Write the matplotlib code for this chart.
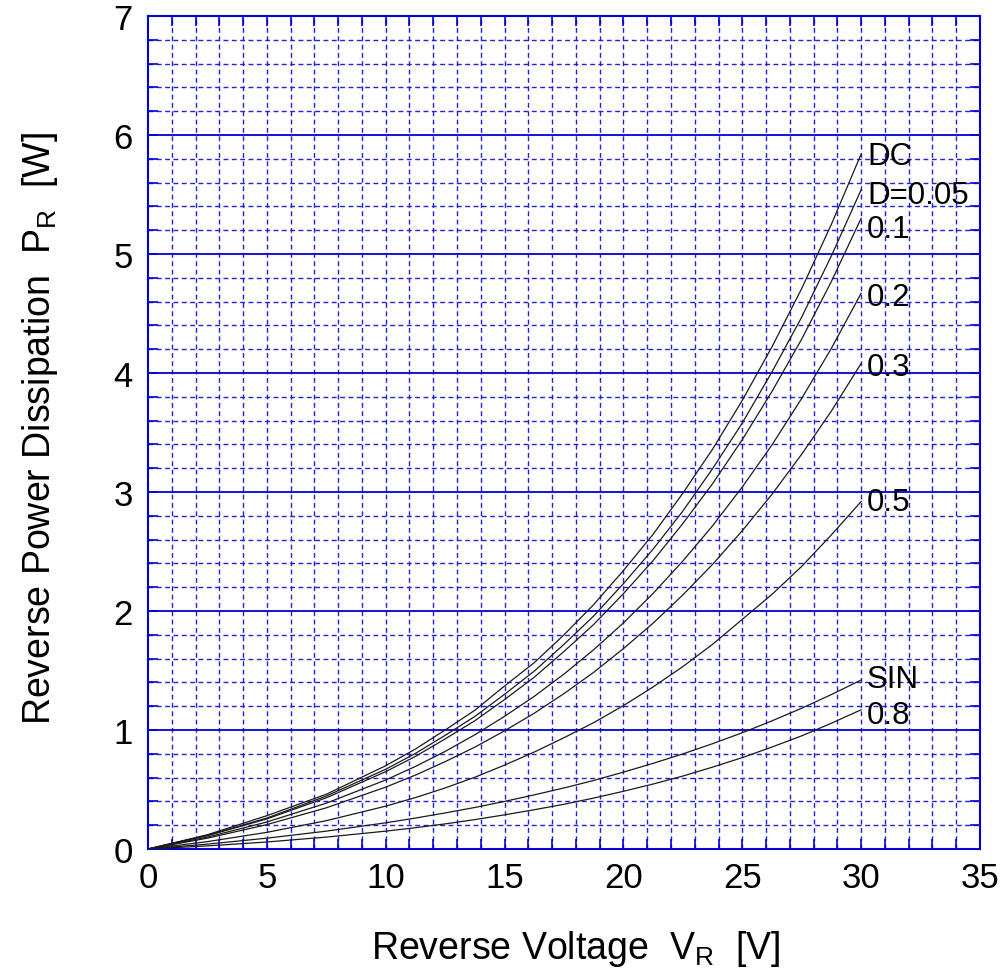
import matplotlib
matplotlib.use("Agg")
import matplotlib.pyplot as plt
import numpy as np

plt.rcParams['font.family'] = ['Liberation Sans', 'DejaVu Sans']
plt.rcParams['mathtext.fontset'] = 'custom'
plt.rcParams['mathtext.rm'] = 'Liberation Sans'

# Reverse voltage (V)
v_r = [0, 2.5, 5, 7.5, 10, 11.25, 12.5, 13.75, 15, 16.25, 17.5, 18.75, 20,
       21.25, 22.5, 23.75, 25, 26.25, 27.5, 28.75, 30]

# Reverse power dissipation (W) per duty cycle
p_dc   = [0, 0.12, 0.28, 0.46, 0.70, 0.84, 1.00, 1.166, 1.37, 1.566, 1.80, 2.054, 2.34,
          2.645, 2.99, 3.36, 3.77, 4.22, 4.71, 5.25, 5.84]
p_d005 = [0, 0.115, 0.26, 0.445, 0.67, 0.803, 0.955, 1.114, 1.30, 1.495, 1.72, 1.958, 2.23,
          2.52, 2.84, 3.196, 3.58, 4.01, 4.47, 4.985, 5.54]
p_d01  = [0, 0.112, 0.253, 0.43, 0.65, 0.778, 0.925, 1.078, 1.256, 1.444, 1.66, 1.887, 2.146,
          2.424, 2.735, 3.07, 3.44, 3.845, 4.285, 4.77, 5.30]
p_d02  = [0, 0.10, 0.227, 0.385, 0.58, 0.694, 0.82, 0.96, 1.115, 1.283, 1.47, 1.675, 1.90,
          2.148, 2.42, 2.716, 3.042, 3.396, 3.787, 4.208, 4.67]
p_d03  = [0, 0.091, 0.205, 0.346, 0.52, 0.621, 0.734, 0.856, 0.993, 1.141, 1.306, 1.485, 1.684,
          1.898, 2.135, 2.392, 2.675, 2.981, 3.318, 3.681, 4.08]
p_d05  = [0, 0.062, 0.14, 0.238, 0.36, 0.432, 0.513, 0.603, 0.705, 0.815, 0.935, 1.062, 1.205,
          1.362, 1.533, 1.72, 1.93, 2.14, 2.375, 2.64, 2.92]
p_sin  = [0, 0.041, 0.091, 0.15, 0.22, 0.26, 0.303, 0.349, 0.40, 0.455, 0.513, 0.576, 0.646,
          0.72, 0.799, 0.885, 0.977, 1.077, 1.183, 1.298, 1.42]
p_d08  = [0, 0.026, 0.059, 0.10, 0.15, 0.179, 0.211, 0.247, 0.287, 0.33, 0.376, 0.428, 0.485,
          0.546, 0.613, 0.688, 0.768, 0.857, 0.951, 1.057, 1.17]

series = [p_dc, p_d005, p_d01, p_d02, p_d03, p_d05, p_sin, p_d08]
labels = ["DC", "D=0.05", "0.1", "0.2", "0.3", "0.5", "SIN", "0.8"]
label_dy = [-0.02, -0.04, -0.09, -0.03, -0.03, 0.0, 0.01, -0.04]

x_ticks = [0, 5, 10, 15, 20, 25, 30, 35]
y_ticks = [0, 1, 2, 3, 4, 5, 6, 7]

fig = plt.figure(figsize=(10.04, 9.78), dpi=100)
ax = fig.add_axes([148/1004, 1 - 850/978, 832/1004, 833/978])
ax.set_xlim(0, 35)
ax.set_ylim(0, 7)

blue = '#0000d8'
# minor dashed grid
for xv in np.arange(1, 35, 1):
    ax.axvline(xv, color='#2020e0', lw=1.0, ls=(0, (3.5, 2.5)), zorder=1)
for yv in np.arange(0.2, 7, 0.2):
    if abs(yv - round(yv)) > 1e-6:
        ax.axhline(yv, color='#2020e0', lw=1.0, ls=(0, (3.5, 2.5)), zorder=1)
# major solid horizontal lines
for yv in range(1, 7):
    ax.axhline(yv, color=blue, lw=1.3, zorder=1)

for s, lab, dy in zip(series, labels, label_dy):
    ax.plot(v_r, s, color='#1a1a1a', lw=0.9, zorder=3)
    ax.text(30.25, s[-1] + dy, lab, fontsize=22.5, ha='left', va='center',
            color='black', zorder=4, clip_on=False)

for sp in ax.spines.values():
    sp.set_color(blue)
    sp.set_linewidth(1.5)

ax.set_xticks(x_ticks)
ax.set_yticks(y_ticks)
ax.set_xticks(np.arange(0, 36, 1), minor=True)
ax.set_yticks(np.arange(0, 7.01, 0.2), minor=True)
ax.tick_params(which='both', direction='in', color=blue, length=7, width=1.2,
               top=True, right=True, labelsize=25)
ax.tick_params(axis='x', which='major', pad=9)
ax.tick_params(axis='y', which='major', pad=11)

fig.text(576/1004, 0.030, r"Reverse Voltage  V$_\mathregular{R}$  [V]", fontsize=27,
         ha='center', va='center')
fig.text(40/1004, 0.5613, r"Reverse Power Dissipation  P$_\mathregular{R}$  [W]", fontsize=27,
         ha='center', va='center', rotation=90)

fig.savefig("out.png", dpi=100)
